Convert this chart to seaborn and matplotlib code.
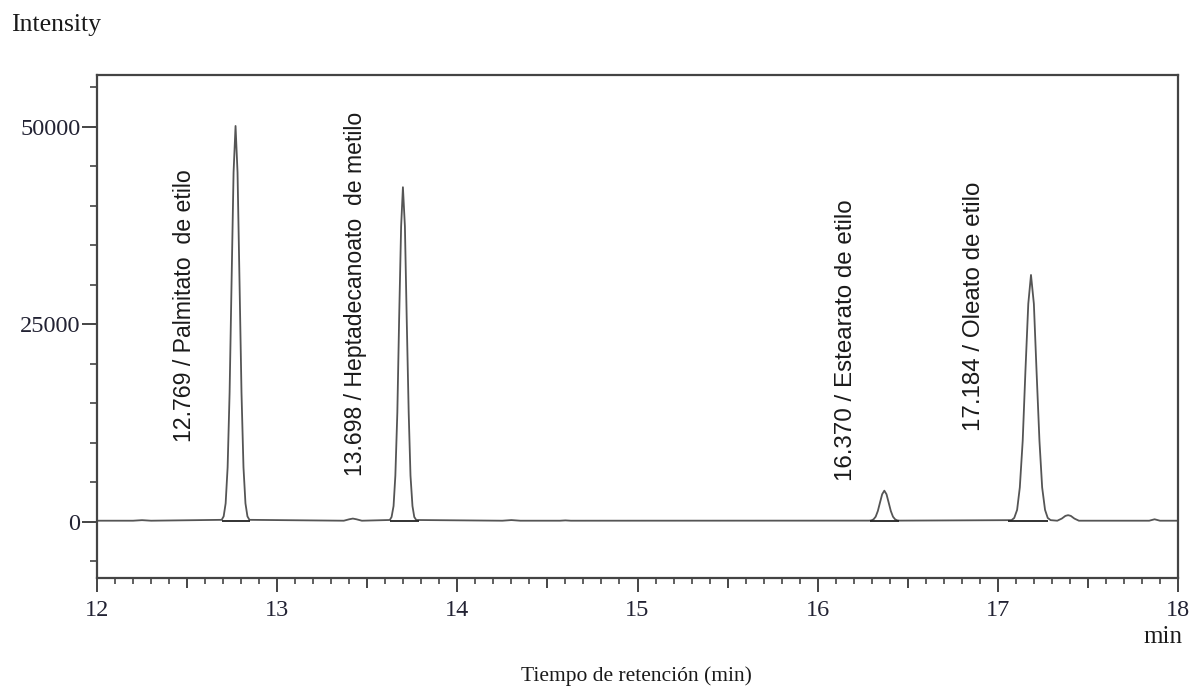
import matplotlib
matplotlib.use("Agg")
import matplotlib.pyplot as plt
import seaborn as sns
import pandas as pd
from matplotlib.ticker import MultipleLocator, FuncFormatter

# ---------------- data ----------------
time_min = [
    12.00, 12.20, 12.25, 12.30,
    12.692, 12.703, 12.714, 12.725, 12.736, 12.747, 12.758, 12.769,
    12.780, 12.791, 12.802, 12.813, 12.824, 12.835, 12.846,
    13.37, 13.40, 13.42, 13.44, 13.47,
    13.625, 13.635, 13.646, 13.656, 13.667, 13.677, 13.688, 13.698,
    13.709, 13.719, 13.730, 13.740, 13.751, 13.761, 13.772,
    14.25, 14.30, 14.35, 14.57, 14.60, 14.63,
    16.286, 16.298, 16.310, 16.322, 16.334, 16.346, 16.358, 16.370,
    16.382, 16.394, 16.406, 16.418, 16.430, 16.442, 16.454,
    17.076, 17.091, 17.107, 17.122, 17.138, 17.153, 17.169, 17.184,
    17.200, 17.215, 17.231, 17.246, 17.262, 17.277, 17.293,
    17.33, 17.355, 17.375, 17.39, 17.405, 17.425, 17.45,
    17.84, 17.87, 17.90, 18.00,
]
intensity = [
    150, 150, 220, 150,
    260, 700, 2340, 6910, 16370, 30450, 44230, 50100,
    44230, 30450, 16370, 6910, 2340, 700, 260,
    150, 330, 420, 330, 150,
    240, 620, 2000, 5860, 13850, 25740, 37390, 42350,
    37390, 25740, 13850, 5860, 2000, 620, 240,
    150, 230, 150, 150, 190, 150,
    160, 190, 320, 660, 1380, 2450, 3500, 3950,
    3500, 2450, 1380, 660, 320, 190, 160,
    220, 500, 1520, 4360, 10250, 19010, 27600, 31250,
    27600, 19010, 10250, 4360, 1520, 500, 220,
    150, 420, 760, 850, 760, 420, 150,
    150, 330, 150, 150,
]

peak_times = [12.769, 13.698, 16.370, 17.184]
peak_names = ["Palmitato  de etilo", "Heptadecanoato  de metilo",
              "Estearato de etilo", "Oleato de etilo"]
peak_start = [12.694, 13.626, 16.293, 17.055]
peak_end = [12.849, 13.790, 16.452, 17.277]
baseline_level = 150

x_ticks_major = [12, 13, 14, 15, 16, 17, 18]
y_ticks_major = [0, 25000, 50000]

# ---------------- layout ----------------
label_x = [12.488, 13.437, 16.160, 16.867]
label_y = [10100, 5800, 5200, 11550]
label_size = [16.7, 16.6, 17.4, 17.4]

df = pd.DataFrame({"t": time_min, "I": intensity})

sns.set_theme(style="white")
plt.rcParams["font.family"] = ["Liberation Serif", "DejaVu Serif"]

fig = plt.figure(figsize=(11.93, 6.92), dpi=100)
ax = fig.add_axes([97 / 1193, 1 - 578 / 692, (1178 - 97) / 1193, (578 - 75) / 692])

sns.lineplot(data=df, x="t", y="I", ax=ax, color="#555555", linewidth=1.3,
             estimator=None, sort=False)
ax.hlines([baseline_level] * len(peak_start), peak_start, peak_end,
          colors="#222222", linewidth=1.3)

for t, name, lx, ly, fs in zip(peak_times, peak_names, label_x, label_y, label_size):
    ax.text(lx, ly, f"{t:.3f} / {name}", rotation=90, ha="center", va="bottom",
            fontsize=fs, family=["Liberation Sans", "DejaVu Sans"], color="#1a1a1a")

ax.set_xlim(12, 18)
ax.set_ylim(-7100, 56550)
ax.set_xlabel("")
ax.set_ylabel("")

ax.xaxis.set_major_locator(MultipleLocator(0.5))
ax.xaxis.set_minor_locator(MultipleLocator(0.1))
ax.xaxis.set_major_formatter(FuncFormatter(
    lambda v, p: f"{int(round(v))}" if abs(v - round(v)) < 1e-6 and int(round(v)) in x_ticks_major else ""))
ax.yaxis.set_major_locator(MultipleLocator(25000))
ax.yaxis.set_minor_locator(MultipleLocator(5000))
ax.yaxis.set_major_formatter(FuncFormatter(lambda v, p: f"{int(v)}" if int(v) in y_ticks_major else ""))

ax.tick_params(axis="x", which="major", direction="out", length=10, width=1.4,
               color="#444444", labelsize=17.5, pad=6, bottom=True)
ax.tick_params(axis="x", which="minor", direction="out", length=4, width=1.2,
               color="#444444", bottom=True)
ax.tick_params(axis="y", which="major", direction="out", length=11, width=1.4,
               color="#444444", labelsize=17.5, pad=1, left=True)
ax.tick_params(axis="y", which="minor", direction="out", length=5, width=1.2,
               color="#444444", left=True)

for lab in ax.get_xticklabels() + ax.get_yticklabels():
    lab.set_color("#222233")

fig.canvas.draw()
for tick in ax.xaxis.get_major_ticks():
    v = tick.get_loc()
    if abs(v - round(v)) < 1e-6:
        tick.tick1line.set_markersize(10)
    else:
        tick.tick1line.set_markersize(7)

for s in ax.spines.values():
    s.set_color("#444444")
    s.set_linewidth(1.6)
    s.set_visible(True)

fig.text(11 / 1193, 1 - 25 / 692, "Intensity", ha="left", va="center",
         fontsize=18.5, color="#1a1a1a")
fig.text(1182 / 1193, 1 - 637 / 692, "min", ha="right", va="center",
         fontsize=18, color="#1a1a1a")
fig.text(636 / 1193, 1 - 676 / 692, "Tiempo de retención (min)", ha="center",
         va="center", fontsize=15.5, color="#1a1a1a")

fig.savefig("out.png", dpi=100)
